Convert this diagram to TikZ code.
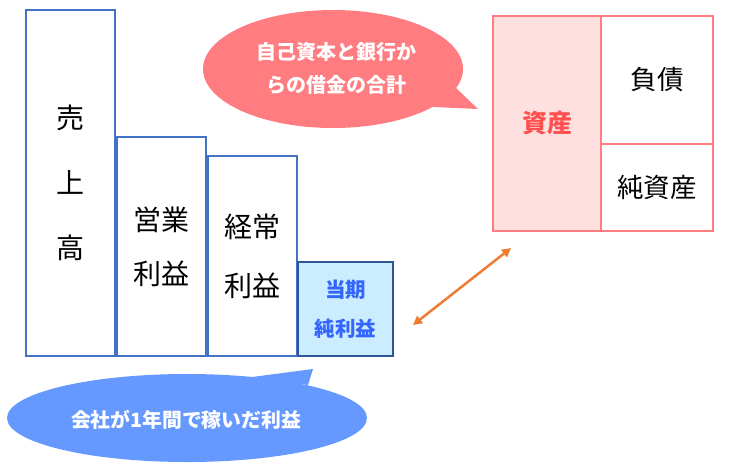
\documentclass[tikz,border=0pt]{standalone}
\usepackage{fontspec}
\newfontfamily\jp{Noto Sans CJK JP}
\usetikzlibrary{arrows.meta}
\definecolor{bblue}{HTML}{4472C4}
\definecolor{dblue}{HTML}{2F5597}
\definecolor{lblue}{HTML}{CCECFF}
\definecolor{tblue}{HTML}{3366FF}
\definecolor{pinkline}{HTML}{FF7C80}
\definecolor{pinkfill}{HTML}{FFE0E0}
\definecolor{pinktext}{HTML}{FF5050}
\definecolor{calloutblue}{HTML}{6699FF}
\definecolor{arroworange}{HTML}{ED7D31}
\tikzset{
  plbox/.style={draw=bblue, line width=2pt, fill=white, inner sep=0pt, align=center,
    font=\jp\fontsize{28}{54}\selectfont},
  netbox/.style={draw=dblue, line width=2pt, fill=lblue, inner sep=0pt, align=center,
    text=tblue, font=\jp\bfseries\fontsize{20.5}{39}\selectfont},
  bsbox/.style={draw=pinkline, line width=2.8pt, fill=white, inner sep=0pt, align=center,
    font=\jp\fontsize{26.5}{30}\selectfont},
  callouttext/.style={text=white, align=center, inner sep=0pt,
    font=\jp\bfseries\fontsize{20}{33}\selectfont},
  link/.style={draw=arroworange, line width=2.5pt, {Triangle[length=9pt,width=9pt]}-{Triangle[length=9pt,width=9pt]}}
}
\begin{document}
\begin{tikzpicture}[x=1pt,y=-1pt]
\useasboundingbox (0,0) rectangle (730,469);
% income statement boxes
\node[plbox, minimum width=89pt, minimum height=346pt, font=\jp\fontsize{28}{65}\selectfont] (sales) at (70.5,183) {売\\上\\高};
\node[plbox, minimum width=89pt, minimum height=219pt] (op) at (161.5,246.5) {営業\\利益};
\node[plbox, minimum width=89pt, minimum height=200pt, font=\jp\fontsize{28}{59}\selectfont] (ord) at (252.5,256) {経常\\利益};
\node[netbox, minimum width=95pt, minimum height=94pt] (net) at (345.5,309) {当期\\純利益};
% balance sheet
\node[bsbox, fill=pinkfill, minimum width=108pt, minimum height=215pt, text=pinktext,
  font=\jp\bfseries\fontsize{25}{30}\selectfont] (assets) at (547,123.5) {資産};
\node[bsbox, minimum width=112pt, minimum height=128pt] (liab) at (657,80) {負債};
\node[bsbox, minimum width=112pt, minimum height=87pt] (equity) at (657,187.5) {純資産};
% pink callout
\fill[pinkline] (333,69) ellipse [x radius=130, y radius=59];
\fill[pinkline] (456,88) -- (478,109) -- (432.6,107) -- cycle;
\node[callouttext] (pinktxt) at (336,68.5) {自己資本と銀行か\\らの借金の合計};
% blue callout
\fill[calloutblue] (187,418) ellipse [x radius=180, y radius=44];
\fill[calloutblue] (252,377) -- (313,369) -- (308,385) -- cycle;
\node[callouttext, font=\jp\bfseries\fontsize{19.8}{33}\selectfont] (bluetxt) at (186,420) {会社が1年間で稼いだ利益};
% arrow
\coordinate (a1) at (413,325);
\coordinate (a2) at (511,248);
\draw[link] (a1) -- (a2);
\end{tikzpicture}
\end{document}
